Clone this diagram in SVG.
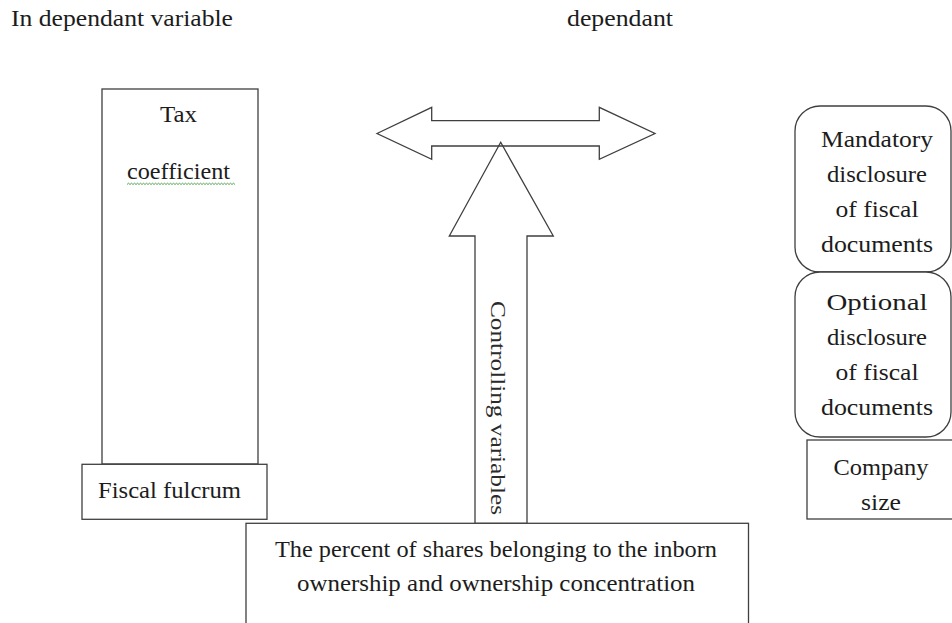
<svg xmlns="http://www.w3.org/2000/svg" width="952" height="623" viewBox="0 0 952 623">
  <style>
    .box { fill: #ffffff; stroke: #3f3f3f; stroke-width: 1.3; }
    .arrow { fill: none; stroke: #3f3f3f; stroke-width: 1.3; stroke-linejoin: miter; }
    .t { font-family: "Liberation Serif", "Times New Roman", serif; font-size: 23px; fill: #1c1c1c; }
    .c { text-anchor: middle; }
    .v { font-family: "Liberation Serif", "Times New Roman", serif; font-size: 22px; fill: #2a2a2a; }
    .squiggle { fill: none; stroke: #3c9a3c; stroke-width: 0.9; }
  </style>

  <rect width="952" height="623" fill="#ffffff"/>

  <!-- column headings -->
  <g id="heading-independent">
    <text class="t" x="11" y="26" textLength="222" lengthAdjust="spacingAndGlyphs">In dependant variable</text>
  </g>
  <g id="heading-dependent">
    <text class="t" x="567" y="26" textLength="106" lengthAdjust="spacingAndGlyphs">dependant</text>
  </g>

  <!-- independent variable column -->
  <g id="tax-coefficient">
    <rect class="box" x="102" y="89" width="156" height="375"/>
    <text class="t" x="160" y="121.5" textLength="37" lengthAdjust="spacingAndGlyphs">Tax</text>
    <text class="t" x="127" y="179" textLength="103" lengthAdjust="spacingAndGlyphs">coefficient</text>
    <path class="squiggle" d="M127 184.5 l1.5 -1.3 l1.5 1.3 l1.5 -1.3 l1.5 1.3 l1.5 -1.3 l1.5 1.3 l1.5 -1.3 l1.5 1.3 l1.5 -1.3 l1.5 1.3 l1.5 -1.3 l1.5 1.3 l1.5 -1.3 l1.5 1.3 l1.5 -1.3 l1.5 1.3 l1.5 -1.3 l1.5 1.3 l1.5 -1.3 l1.5 1.3 l1.5 -1.3 l1.5 1.3 l1.5 -1.3 l1.5 1.3 l1.5 -1.3 l1.5 1.3 l1.5 -1.3 l1.5 1.3 l1.5 -1.3 l1.5 1.3 l1.5 -1.3 l1.5 1.3 l1.5 -1.3 l1.5 1.3 l1.5 -1.3 l1.5 1.3 l1.5 -1.3 l1.5 1.3 l1.5 -1.3 l1.5 1.3 l1.5 -1.3 l1.5 1.3 l1.5 -1.3 l1.5 1.3 l1.5 -1.3 l1.5 1.3 l1.5 -1.3 l1.5 1.3 l1.5 -1.3 l1.5 1.3 l1.5 -1.3 l1.5 1.3 l1.5 -1.3 l1.5 1.3 l1.5 -1.3 l1.5 1.3 l1.5 -1.3 l1.5 1.3 l1.5 -1.3 l1.5 1.3 l1.5 -1.3 l1.5 1.3 l1.5 -1.3 l1.5 1.3 l1.5 -1.3 l1.5 1.3 l1.5 -1.3 l1.5 1.3 l1.5 -1.3 l1.5 1.3 l1.5 -1.3 l1.5 1.3"/>
  </g>
  <g id="fiscal-fulcrum">
    <rect class="box" x="82" y="464.3" width="185" height="55"/>
    <text class="t" x="98" y="497.5" textLength="143" lengthAdjust="spacingAndGlyphs">Fiscal fulcrum</text>
  </g>

  <!-- block arrows -->
  <g id="connectors">
    <polygon class="arrow" points="377,133.5 431.7,107.3 431.7,120.7 599.3,120.7 599.3,107.3 655,133.5 599.3,159.3 599.3,146 431.7,146 431.7,159.3"/>
    <polygon class="arrow" points="500.7,142.3 553.3,236 527,236 527,523.3 475,523.3 475,236 449.3,236"/>
  </g>
  <g id="controlling-variables">
    <text class="v" transform="translate(491,301) rotate(90)" x="0" y="0" textLength="214" lengthAdjust="spacingAndGlyphs">Controlling variables</text>
  </g>

  <!-- ownership box (runs off the lower edge) -->
  <g id="ownership">
    <rect class="box" x="246" y="523.3" width="502.5" height="130"/>
    <text class="t" x="275" y="556.5" textLength="442" lengthAdjust="spacingAndGlyphs">The percent of shares belonging to the inborn</text>
    <text class="t" x="297" y="591" textLength="398" lengthAdjust="spacingAndGlyphs">ownership and ownership concentration</text>
  </g>

  <!-- dependent variable column -->
  <g id="mandatory-disclosure">
    <rect class="box" x="795" y="106" width="156" height="166" rx="25" ry="25"/>
    <text class="t c" x="877" y="147" textLength="112" lengthAdjust="spacingAndGlyphs">Mandatory</text>
    <text class="t c" x="877" y="182" textLength="100" lengthAdjust="spacingAndGlyphs">disclosure</text>
    <text class="t c" x="877" y="217" textLength="83" lengthAdjust="spacingAndGlyphs">of fiscal</text>
    <text class="t c" x="877" y="252" textLength="112" lengthAdjust="spacingAndGlyphs">documents</text>
  </g>
  <g id="optional-disclosure">
    <rect class="box" x="795" y="272" width="156" height="165" rx="25" ry="25"/>
    <text class="t c" x="877" y="310" textLength="101" lengthAdjust="spacingAndGlyphs">Optional</text>
    <text class="t c" x="877" y="345" textLength="100" lengthAdjust="spacingAndGlyphs">disclosure</text>
    <text class="t c" x="877" y="380" textLength="83" lengthAdjust="spacingAndGlyphs">of fiscal</text>
    <text class="t c" x="877" y="415" textLength="112" lengthAdjust="spacingAndGlyphs">documents</text>
  </g>
  <g id="company-size">
    <rect class="box" x="807" y="440" width="150" height="79"/>
    <text class="t c" x="881" y="475" textLength="95" lengthAdjust="spacingAndGlyphs">Company</text>
    <text class="t c" x="881" y="510" textLength="40" lengthAdjust="spacingAndGlyphs">size</text>
  </g>
</svg>
